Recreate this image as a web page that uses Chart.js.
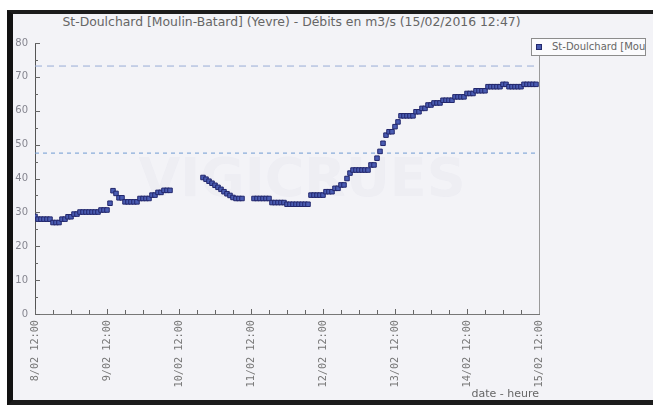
<!DOCTYPE html>
<html>
<head>
<meta charset="utf-8">
<script src="https://cdn.jsdelivr.net/npm/chart.js@4/dist/chart.umd.min.js"></script>
<style>
	html, body { margin: 0; padding: 0; background: #ffffff; overflow: hidden; }
	#wrap { position: relative; width: 653px; height: 405px; overflow: hidden; }
	#frame {
		position: absolute; left: 7px; top: 10px; width: 700px; height: 386px;
		border-left: 6px solid #121212; border-top: 4px solid #1c1c1c; border-bottom: 6px solid #1c1c1c;
		background: #f3f3f7;
	}
	#title {
		position: absolute; left: 0; width: 583px; top: 14px; text-align: center;
		font: 12.4px 'DejaVu Sans', sans-serif; color: #666; white-space: nowrap;
	}
	#legend {
		position: absolute; left: 531px; top: 38px; width: 113px; height: 16px;
		border: 1px solid #8c8c8c; background: #fbfbfd; overflow: hidden; white-space: nowrap;
		font: 10px 'DejaVu Sans', sans-serif; color: #666; line-height: 16px;
	}
	#legend span.mark {
		display: inline-block; width: 4px; height: 4px; margin: 0 10px 1px 4px;
		background: #4a5cb0; border: 1px solid #23286e; vertical-align: middle;
	}
	canvas { position: absolute; left: 0; top: 0; }
</style>
</head>
<body>
<div id="wrap">
	<div id="frame"></div>
	<div id="title">St-Doulchard [Moulin-Batard] (Yevre) - Débits en m3/s (15/02/2016 12:47)</div>
	<canvas id="chart" width="653" height="405"></canvas>
	<div id="legend"><span class="mark"></span>St-Doulchard [Moulin-Batard]</div>
</div>
<script>
// hours counted from 8/02 12:00, one reading per hour (null = no reading)
const flowValues = [
	// 8/02 12:00 -> 9/02 11:00
	28.8, 28.0, 28.0, 28.0, 28.0, 28.0, 27.0, 27.0, 27.0, 28.0, 28.0, 28.7,
	28.7, 29.5, 29.5, 30.1, 30.1, 30.1, 30.1, 30.1, 30.1, 30.1, 30.7, 30.7,
	// 9/02 12:00 -> 10/02 11:00
	30.7, 32.7, 36.4, 35.6, 34.3, 34.3, 33.1, 33.1, 33.1, 33.1, 33.1, 34.1,
	34.1, 34.1, 34.1, 35.1, 35.1, 35.9, 35.9, 36.5, 36.5, 36.5, null, null,
	// 10/02 12:00 -> 11/02 11:00
	null, null, null, null, null, null, null, null, 40.3, 39.8, 39.2, 38.6,
	38.0, 37.4, 36.8, 36.1, 35.5, 35.0, 34.4, 34.1, 34.1, 34.1, null, null,
	// 11/02 12:00 -> 12/02 11:00
	null, 34.1, 34.1, 34.1, 34.1, 34.1, 34.1, 32.9, 32.9, 32.9, 32.9, 32.9,
	32.4, 32.4, 32.4, 32.4, 32.4, 32.4, 32.4, 32.4, 35.1, 35.1, 35.1, 35.1,
	// 12/02 12:00 -> 13/02 11:00
	35.1, 36.1, 36.1, 36.1, 37.1, 37.1, 38.1, 38.1, 40.0, 41.6, 42.5, 42.5,
	42.5, 42.5, 42.5, 42.5, 44.0, 44.0, 46.0, 48.0, 50.4, 52.8, 53.8, 53.8,
	// 13/02 12:00 -> 14/02 11:00
	55.3, 56.7, 58.5, 58.5, 58.5, 58.5, 58.5, 59.7, 59.7, 60.7, 60.7, 61.7,
	61.7, 62.3, 62.3, 62.3, 63.1, 63.1, 63.1, 63.1, 64.1, 64.1, 64.1, 64.1,
	// 14/02 12:00 -> 15/02 11:00
	65.1, 65.1, 65.1, 65.9, 65.9, 65.9, 65.9, 67.1, 67.1, 67.1, 67.1, 67.1,
	67.8, 67.8, 67.1, 67.1, 67.1, 67.1, 67.1, 67.8, 67.8, 67.8, 67.8, 67.8,
];

const dayLabels = ['8/02 12:00', '9/02 12:00', '10/02 12:00', '11/02 12:00', '12/02 12:00', '13/02 12:00', '14/02 12:00', '15/02 12:00'];
const upperThreshold = 73.2;
const lowerThreshold = 47.5;
const totalHours = 168;

const flowPoints = flowValues
	.map((v, i) => ({ x: i, y: v }))
	.filter((p) => p.y !== null);

// small ticks drawn inside the plot, plus the right border line
const innerTicks = {
	id: 'innerTicks',
	beforeDatasetsDraw(chart) {
		const { ctx, chartArea } = chart;
		ctx.save();
		ctx.font = 'bold 54px "DejaVu Sans", sans-serif';
		ctx.fillStyle = 'rgba(175, 178, 200, 0.08)';
		ctx.textAlign = 'center';
		ctx.textBaseline = 'middle';
		ctx.fillText('VIGICRUES', (chartArea.left + chartArea.right) / 2 + 15, (chartArea.top + chartArea.bottom) / 2 + 3);
		ctx.restore();
	},
	afterDraw(chart) {
		const { ctx, chartArea, scales } = chart;
		ctx.save();
		ctx.strokeStyle = '#666';
		ctx.lineWidth = 1;
		ctx.beginPath();
		scales.x.ticks.forEach((t) => {
			const px = Math.round(scales.x.getPixelForValue(t.value)) + 0.5;
			const len = t.value % 24 === 0 ? 5 : 4;
			ctx.moveTo(px, chartArea.bottom);
			ctx.lineTo(px, chartArea.bottom - len);
		});
		scales.y.ticks.forEach((t) => {
			const py = Math.round(scales.y.getPixelForValue(t.value)) + 0.5;
			const len = t.value % 10 === 0 ? 5 : 3;
			ctx.moveTo(chartArea.left, py);
			ctx.lineTo(chartArea.left + len, py);
		});
		ctx.stroke();
		ctx.strokeStyle = '#9a9a9a';
		ctx.beginPath();
		ctx.moveTo(Math.round(chartArea.right) + 0.5, chartArea.top + 12);
		ctx.lineTo(Math.round(chartArea.right) + 0.5, chartArea.bottom);
		ctx.stroke();
		ctx.restore();
	},
};

new Chart(document.getElementById('chart'), {
	type: 'scatter',
	data: {
		datasets: [
			{
				label: 'St-Doulchard [Moulin-Batard]',
				data: flowPoints,
				pointStyle: 'rect',
				pointRadius: 3.2,
				pointBackgroundColor: '#4a5cb2',
				pointBorderColor: '#22276c',
				pointBorderWidth: 1,
				showLine: false,
			},
			{
				type: 'line',
				data: [{ x: 0, y: upperThreshold }, { x: totalHours, y: upperThreshold }],
				borderColor: '#98acd6',
				borderWidth: 1,
				borderDash: [7, 5],
				pointRadius: 0,
			},
			{
				type: 'line',
				data: [{ x: 0, y: lowerThreshold }, { x: totalHours, y: lowerThreshold }],
				borderColor: '#6f9bd2',
				borderWidth: 1,
				borderDash: [4, 4],
				pointRadius: 0,
			},
		],
	},
	options: {
		responsive: false,
		animation: false,
		layout: { padding: { left: 0, top: 43, right: 114, bottom: 0 } },
		plugins: {
			legend: { display: false },
			tooltip: { enabled: false },
			title: { display: false },
		},
		scales: {
			x: {
				type: 'linear',
				min: 0,
				max: totalHours,
				afterFit: (scale) => { scale.height = 91; },
				grid: { display: true, drawOnChartArea: false, drawTicks: false },
				border: { display: true, color: '#777' },
				ticks: {
					stepSize: 6,
					autoSkip: false,
					minRotation: 90,
					maxRotation: 90,
					padding: 6,
					color: '#777',
					font: { family: 'DejaVu Sans Mono', size: 10.2 },
					callback: (v) => (v % 24 === 0 ? dayLabels[v / 24] : ''),
				},
				title: {
					display: true,
					text: 'date - heure',
					align: 'end',
					color: '#666',
					font: { family: 'DejaVu Sans', size: 11 },
					padding: { top: 0, bottom: 4 },
				},
			},
			y: {
				min: 0,
				max: 80,
				afterFit: (scale) => { scale.width = 35; },
				grid: { display: true, drawOnChartArea: false, drawTicks: false },
				border: { display: true, color: '#555' },
				ticks: {
					stepSize: 5,
					autoSkip: false,
					padding: 7,
					color: '#85858f',
					font: { family: 'DejaVu Sans', size: 10 },
					callback: (v) => (v % 10 === 0 ? v : ''),
				},
			},
		},
	},
	plugins: [innerTicks],
});
</script>
</body>
</html>
